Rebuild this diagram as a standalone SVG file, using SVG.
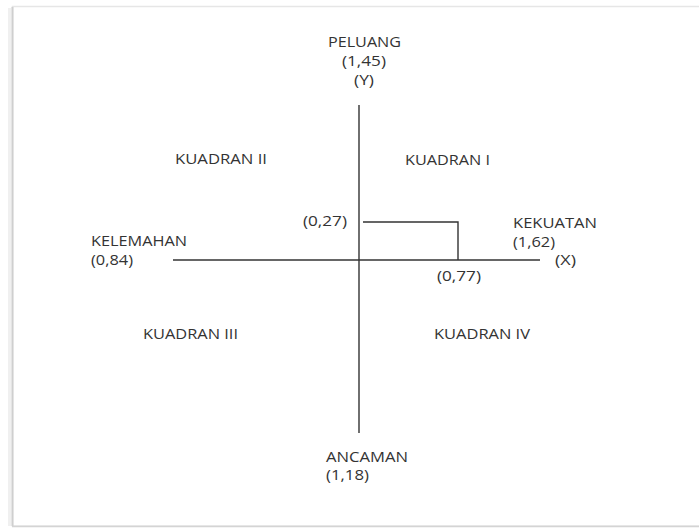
<svg xmlns="http://www.w3.org/2000/svg" width="699" height="528" viewBox="0 0 699 528">
<style>
  text { font-family: "Open Sans", "Noto Sans", "DejaVu Sans", sans-serif; font-size: 14px; fill: #333333; }
  .ax { stroke: #333333; stroke-width: 1.4; fill: none; }
</style>
<rect x="0" y="0" width="699" height="528" fill="#ffffff"/>
<g id="frame">
  <rect x="12.5" y="6.5" width="700" height="519.5" fill="#ffffff" stroke="#e6e6e6" stroke-width="1.5"/>
  <line x1="12.5" y1="7" x2="12.5" y2="526" stroke="#cfcfcf" stroke-width="2"/>
  <line x1="9.5" y1="8" x2="9.5" y2="526" stroke="#f0f0f0" stroke-width="3"/>
  <line x1="12" y1="526.5" x2="699" y2="526.5" stroke="#d4d4d4" stroke-width="1.5"/>
</g>
<g id="connectors">
  <line class="ax" x1="359" y1="105" x2="359" y2="433"/>
  <line class="ax" x1="173" y1="260" x2="540" y2="260"/>
  <polyline class="ax" points="363,222 458,222 458,260"/>
</g>
<g id="peluang">
  <text x="328" y="47" textLength="73" lengthAdjust="spacingAndGlyphs">PELUANG</text>
  <text x="342" y="65.5" textLength="44" lengthAdjust="spacingAndGlyphs">(1,45)</text>
  <text x="354" y="85" textLength="20" lengthAdjust="spacingAndGlyphs">(Y)</text>
</g>
<g id="kuadran-ii">
  <text x="175" y="164" textLength="92" lengthAdjust="spacingAndGlyphs">KUADRAN II</text>
</g>
<g id="kuadran-i">
  <text x="405" y="165" textLength="85" lengthAdjust="spacingAndGlyphs">KUADRAN I</text>
</g>
<g id="titik-y">
  <text x="303" y="226" textLength="44" lengthAdjust="spacingAndGlyphs">(0,27)</text>
</g>
<g id="kekuatan">
  <text x="513" y="228" textLength="84" lengthAdjust="spacingAndGlyphs">KEKUATAN</text>
  <text x="513" y="246.5" textLength="42" lengthAdjust="spacingAndGlyphs">(1,62)</text>
  <text x="555" y="264.5" textLength="21" lengthAdjust="spacingAndGlyphs">(X)</text>
</g>
<g id="kelemahan">
  <text x="91" y="246" textLength="96" lengthAdjust="spacingAndGlyphs">KELEMAHAN</text>
  <text x="91" y="264.5" textLength="42" lengthAdjust="spacingAndGlyphs">(0,84)</text>
</g>
<g id="titik-x">
  <text x="437" y="281" textLength="44" lengthAdjust="spacingAndGlyphs">(0,77)</text>
</g>
<g id="kuadran-iii">
  <text x="143" y="339" textLength="95" lengthAdjust="spacingAndGlyphs">KUADRAN III</text>
</g>
<g id="kuadran-iv">
  <text x="434" y="339" textLength="96" lengthAdjust="spacingAndGlyphs">KUADRAN IV</text>
</g>
<g id="ancaman">
  <text x="326" y="461.5" textLength="82" lengthAdjust="spacingAndGlyphs">ANCAMAN</text>
  <text x="326" y="480" textLength="43" lengthAdjust="spacingAndGlyphs">(1,18)</text>
</g>
</svg>
